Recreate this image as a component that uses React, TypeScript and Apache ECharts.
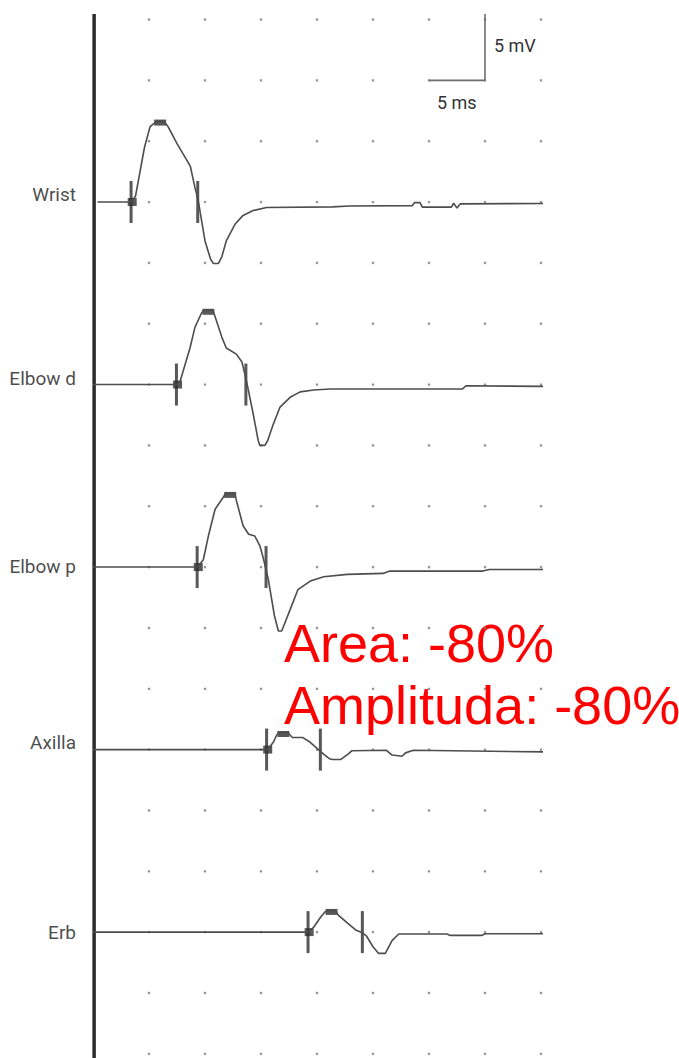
import React, { useEffect, useRef } from "react";
import * as echarts from "echarts";

// Trace names and baseline levels (mV, in stacked display coordinates)
const traceNames = ["Wrist", "Elbow d", "Elbow p", "Axilla", "Erb"];
const baselines = [70, 55, 40, 25, 10];
const labelOffsets = [-8, -6, -1, -7, 0];

// Each trace: [time ms, deflection mV relative to its baseline]
const wrist = [
  [0.4, 0], [3.4, 0], [3.8, 0.5], [4.6, 4.5], [5.1, 6.2], [5.7, 6.65], [6.3, 6.65],
  [6.7, 6.2], [7.5, 4.8], [8.4, 3.4], [8.7, 2.9], [9.1, 1.2], [9.4, 0.1], [10.0, -3.2],
  [10.5, -4.7], [10.75, -5.05], [11.2, -5.05], [11.5, -4.5], [11.9, -3.2], [12.7, -1.8],
  [13.4, -1.1], [14.3, -0.7], [15.5, -0.45], [21.4, -0.4], [22.9, -0.33], [28.5, -0.3],
  [28.7, -0.05], [29.2, -0.05], [29.4, -0.42], [32.0, -0.42], [32.2, -0.1], [32.5, -0.5],
  [32.8, -0.15], [40.2, -0.12],
];
const elbowD = [
  [0, 0], [7.5, 0], [7.8, 0.33], [8.66, 3.0], [9.1, 4.7], [9.7, 5.9], [9.9, 6.1], [10.7, 6.1],
  [11.0, 5.3], [11.5, 3.9], [11.9, 3.0], [12.8, 2.5], [13.3, 1.85], [13.7, 0.3], [14.3, -2.4],
  [14.75, -4.6], [14.9, -5.0], [15.35, -5.0], [15.6, -4.6], [16.1, -3.25], [16.7, -1.85],
  [17.6, -1.05], [18.5, -0.6], [19.7, -0.45], [21.2, -0.36], [33.0, -0.36], [33.3, -0.1],
  [40.2, -0.15],
];
const elbowP = [
  [0, 0], [9.3, 0], [9.85, 0.6], [10.3, 2.55], [10.9, 4.75], [11.6, 5.7], [11.85, 6.05],
  [12.65, 6.05], [12.85, 5.3], [13.4, 3.4], [13.9, 2.7], [14.45, 2.55], [14.9, 1.75],
  [15.2, 0.75], [15.65, -1.0], [16.2, -4.0], [16.55, -5.25], [16.85, -5.25], [17.6, -3.5],
  [18.3, -1.85], [19.4, -1.15], [20.6, -0.8], [22.7, -0.6], [25.9, -0.52], [26.5, -0.33],
  [34.8, -0.33], [35.4, -0.2], [40.2, -0.2],
];
const axilla = [
  [0, 0], [15.6, 0], [16.1, 0.6], [16.4, 1.2], [16.6, 1.4], [17.4, 1.4], [17.8, 1.0],
  [18.7, 1.0], [19.4, 0.6], [20.0, 0.1], [20.7, -0.45], [21.1, -0.75], [21.4, -0.82],
  [22.1, -0.82], [22.8, -0.35], [23.1, -0.1], [26.2, -0.06], [26.7, -0.45], [27.6, -0.55],
  [27.9, -0.27], [28.6, -0.06], [40.4, -0.19],
];
const erb = [
  [0, 0], [19.2, 0], [19.7, 0.4], [20.3, 1.2], [20.7, 1.65], [21.0, 1.78], [21.6, 1.78],
  [21.9, 1.4], [22.65, 0.8], [23.5, 0.15], [24.05, -0.05], [24.4, -0.3], [25.0, -1.2],
  [25.5, -1.75], [26.1, -1.75], [26.7, -0.7], [27.3, -0.15], [31.6, -0.15], [31.9, -0.27],
  [34.7, -0.27], [35.0, -0.14], [40.2, -0.14],
];
const traces = [wrist, elbowD, elbowP, axilla, erb];

// Cursor markers (ms) and peak amplitudes (mV)
const onsetTimes = [3.4, 7.45, 9.3, 15.5, 19.2];
const peakTimes = [6.0, 10.3, 12.25, 17.0, 21.3];
const peakAmps = [6.65, 6.1, 6.05, 1.4, 1.78];
const endTimes = [9.35, 13.65, 15.45, 20.3, 24.05];

// Dot grid
const gridTimes = [5, 10, 15, 20, 25, 30, 35, 40];
const gridLevels = [0, 5, 10, 15, 20, 25, 30, 35, 40, 45, 50, 55, 60, 65, 70, 75, 80, 85];

// Calibration bar
const scaleBarTimes = [30, 35];
const scaleBarLevels = [80, 85.45];
const axisTop = 85.45;
const axisBottom = -1;

const annotations = ["Area: -80%", "Amplituda: -80%"];

export default function App() {
  const ref = useRef<HTMLDivElement>(null);
  useEffect(() => {
    if (!ref.current) return;
    const chart = echarts.init(ref.current, null, { renderer: "svg" });

    const dots: number[][] = [];
    gridTimes.forEach((t) => gridLevels.forEach((l) => dots.push([t, l])));

    const traceSeries = traces.map((tr, i) => ({
      type: "line",
      name: traceNames[i],
      data: tr.map(([t, v]) => [t, baselines[i] + v]),
      symbol: "none",
      clip: false,
      silent: true,
      lineStyle: { color: "#4d4d4d", width: 1.6 },
    }));

    const ticks: number[][] = [];
    onsetTimes.forEach((t, i) => ticks.push([t, baselines[i]]));
    endTimes.forEach((t, i) => ticks.push([t, baselines[i]]));

    const option: any = {
      animation: false,
      grid: { left: 93, right: 138, top: 19.5, bottom: 4.2 },
      xAxis: { type: "value", min: 0, max: 40, show: false },
      yAxis: { type: "value", min: 0, max: 85, show: false },
      series: [
        {
          type: "scatter",
          data: dots,
          symbol: "circle",
          symbolSize: 2.6,
          itemStyle: { color: "#7a7a7a" },
          silent: true,
          clip: false,
        },
        {
          type: "line",
          data: [[0.1, axisBottom], [0.1, axisTop]],
          symbol: "none",
          clip: false,
          silent: true,
          lineStyle: { color: "#2b2b2b", width: 3.5 },
        },
        {
          type: "line",
          data: [
            [scaleBarTimes[0], scaleBarLevels[0]],
            [scaleBarTimes[1], scaleBarLevels[0]],
            [scaleBarTimes[1], scaleBarLevels[1]],
          ],
          symbol: "none",
          clip: false,
          silent: true,
          lineStyle: { color: "#6e6e6e", width: 1.6 },
        },
        ...traceSeries,
        {
          type: "scatter",
          data: ticks,
          symbol: "rect",
          symbolSize: [3, 42],
          itemStyle: { color: "#2e2e2e" },
          silent: true,
          clip: false,
        },
        {
          type: "scatter",
          data: onsetTimes.map((t, i) => [t + 0.1, baselines[i]]),
          symbol: "rect",
          symbolSize: [9, 8],
          itemStyle: { color: "#2e2e2e" },
          silent: true,
          clip: false,
        },
        {
          type: "scatter",
          data: peakTimes.map((t, i) => [t, baselines[i] + peakAmps[i] - 0.12]),
          symbol: "rect",
          symbolSize: [12, 6],
          itemStyle: { color: "#2e2e2e" },
          silent: true,
          clip: false,
        },
        {
          type: "scatter",
          data: traceNames.map((n, i) => ({
            name: n,
            value: [0, baselines[i]],
            label: { offset: [0, labelOffsets[i]] },
          })),
          symbolSize: 0,
          silent: true,
          clip: false,
          label: {
            show: true,
            position: "left",
            distance: 17,
            formatter: "{b}",
            fontFamily: "Roboto",
            fontSize: 19,
            color: "#1a1a1a",
          },
        },
      ],
      graphic: [
        {
          type: "text",
          x: 494,
          y: 45,
          style: {
            text: "5 mV",
            fontFamily: "Roboto",
            fontSize: 18,
            fill: "#333",
            textAlign: "left",
            textVerticalAlign: "middle",
          },
        },
        {
          type: "text",
          x: 437,
          y: 102,
          style: {
            text: "5 ms",
            fontFamily: "Roboto",
            fontSize: 18,
            fill: "#333",
            textAlign: "left",
            textVerticalAlign: "middle",
          },
        },
        {
          type: "text",
          x: 284,
          y: 643,
          style: {
            text: annotations[0],
            fontFamily: "Liberation Sans",
            fontSize: 54,
            fill: "#ff0000",
            textAlign: "left",
            textVerticalAlign: "middle",
          },
        },
        {
          type: "text",
          x: 284,
          y: 705,
          style: {
            text: annotations[1],
            fontFamily: "Liberation Sans",
            fontSize: 54,
            fill: "#ff0000",
            textAlign: "left",
            textVerticalAlign: "middle",
          },
        },
      ],
    };
    chart.setOption(option);
    return () => chart.dispose();
  }, []);

  return (
    <div
      ref={ref}
      style={{ position: "absolute", left: 0, top: 0, width: 679, height: 1058, background: "#fff" }}
    />
  );
}
